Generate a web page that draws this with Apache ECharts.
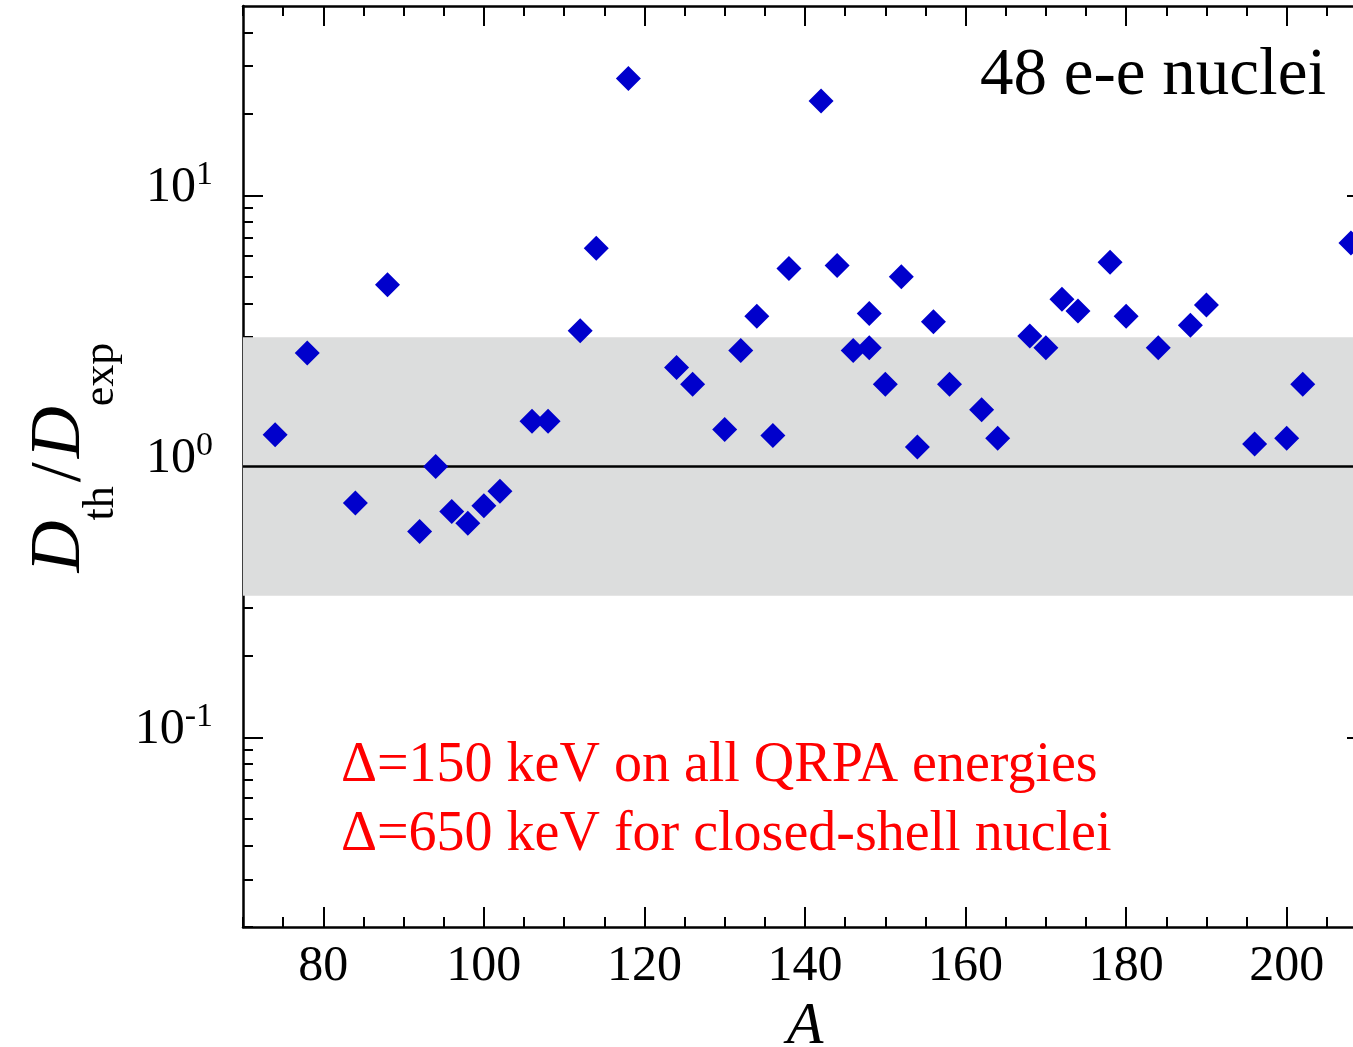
<!DOCTYPE html>
<html>
<head>
<meta charset="utf-8">
<script src="https://cdn.jsdelivr.net/npm/echarts@6/dist/echarts.min.js"></script>
<style>
  html, body { margin: 0; padding: 0; background: #ffffff; }
  #chart { width: 1353px; height: 1047px; }
</style>
</head>
<body>
<div id="chart"></div>
<script>
// Mass number A of each even-even nucleus
const massNumbers = [74, 78, 84, 88, 92, 94, 96, 98, 100, 102, 106, 108, 112, 114, 118,
  124, 126, 130, 132, 134, 136, 138, 142, 144, 146, 148, 148, 150, 152, 154, 156, 158,
  162, 164, 168, 170, 172, 174, 178, 180, 184, 188, 190, 196, 200, 202, 208];

// Ratio of theoretical to experimental level spacing, D_th / D_exp
const ratios = [1.31, 2.62, 0.734, 4.68, 0.576, 1.0, 0.683, 0.618, 0.717, 0.81, 1.47, 1.47, 3.17, 6.39, 27.0,
  2.32, 2.01, 1.37, 2.68, 3.58, 1.30, 5.38, 22.3, 5.51, 2.68, 3.67, 2.74, 2.01, 5.01, 1.18, 3.42, 2.01,
  1.62, 1.27, 3.03, 2.74, 4.14, 3.75, 5.67, 3.58, 2.74, 3.32, 3.94, 1.21, 1.27, 2.01, 6.68];

// Axis ranges and tick positions
const xRange = [70, 210];
const xMajorTicks = [80, 100, 120, 140, 160, 180, 200];
const xMinorStep = 5;
const yRange = [0.02, 50];
const yMajorTicks = [0.1, 1, 10];
const yMinorTicks = [0.02, 0.03, 0.04, 0.05, 0.06, 0.07, 0.08, 0.09,
  0.2, 0.3, 0.4, 0.5, 0.6, 0.7, 0.8, 0.9,
  2, 3, 4, 5, 6, 7, 8, 9,
  20, 30, 40];

// Shaded "factor of 3" band and the unity reference line
const factorBand = [1 / 3, 3];
const unityLine = 1;

// Annotations
const sampleLabel = '48 e-e nuclei';
const shiftNotes = ['\u0394=150 keV on all QRPA energies', '\u0394=650 keV for closed-shell nuclei'];

const SERIF = '"Liberation Serif", "Times New Roman", serif';
const AXIS_COLOR = '#000000';

const points = massNumbers.map((a, i) => [a, ratios[i]]);

function xAxisDef(position, major) {
  const def = {
    type: 'value',
    position: position,
    min: xRange[0],
    max: xRange[1],
    axisLine: { show: major, onZero: false, lineStyle: { color: AXIS_COLOR, width: 2.5 } },
    axisTick: {
      show: true, inside: true, length: major ? 20 : 10,
      lineStyle: { color: AXIS_COLOR, width: 2 }
    },
    axisLabel: { show: false },
    splitLine: { show: false }
  };
  if (major) {
    def.axisTick.customValues = xMajorTicks;
  } else {
    def.interval = xMinorStep;
  }
  if (major && position === 'bottom') {
    def.axisLabel = {
      show: true, customValues: xMajorTicks, margin: 15,
      fontFamily: SERIF, fontSize: 50, lineHeight: 50, color: '#000'
    };
    def.name = 'A';
    def.nameLocation = 'middle';
    def.nameGap = 66;
    def.nameTextStyle = {
      fontFamily: SERIF, fontStyle: 'italic', fontSize: 60, lineHeight: 60, color: '#000'
    };
  }
  return def;
}

function yAxisDef(position, major) {
  const def = {
    type: 'log',
    logBase: 10,
    position: position,
    min: yRange[0],
    max: yRange[1],
    axisLine: { show: major, onZero: false, lineStyle: { color: AXIS_COLOR, width: 2.5 } },
    axisTick: {
      show: true, inside: true, length: major ? 20 : 10,
      customValues: major ? yMajorTicks : yMinorTicks,
      lineStyle: { color: AXIS_COLOR, width: 2 }
    },
    axisLabel: { show: false },
    splitLine: { show: false },
    minorTick: { show: false }
  };
  if (major && position === 'left') {
    def.axisLabel = {
      show: true,
      customValues: yMajorTicks,
      margin: 30,
      padding: [0, 0, 24, 0],
      formatter: function (v) {
        const e = Math.round(Math.log10(v));
        return '{b|10}{s|' + e + '}';
      },
      rich: {
        b: { fontFamily: SERIF, fontSize: 50, lineHeight: 50, padding: [8, 0, 0, 0], color: '#000' },
        s: { fontFamily: SERIF, fontSize: 34, lineHeight: 34, verticalAlign: 'top', color: '#000' }
      }
    };
    def.name = '{d|D}{sub|th}{sl|/}{d|D}{sub|exp}';
    def.nameLocation = 'middle';
    def.nameRotate = 90;
    def.nameGap = 129;
    def.nameTextStyle = {
      padding: [0, 0, 0, 18],
      rich: {
        d: { fontFamily: SERIF, fontStyle: 'italic', fontSize: 72, lineHeight: 72, verticalAlign: 'top', color: '#000' },
        sub: { fontFamily: SERIF, fontSize: 44, lineHeight: 44, padding: [56, 0, 0, 0], verticalAlign: 'top', color: '#000' },
        sl: { fontFamily: SERIF, fontSize: 72, lineHeight: 72, verticalAlign: 'bottom', color: '#000', padding: [0, 4, 0, 4] }
      }
    };
  }
  return def;
}

const chart = echarts.init(document.getElementById('chart'), null, { renderer: 'canvas' });

chart.setOption({
  backgroundColor: '#ffffff',
  animation: false,
  grid: { left: 243, right: -14, top: 6, bottom: 120, containLabel: false, outerBoundsMode: 'none' },
  xAxis: [
    xAxisDef('bottom', true),
    xAxisDef('bottom', false),
    xAxisDef('top', true),
    xAxisDef('top', false)
  ],
  yAxis: [
    yAxisDef('left', true),
    yAxisDef('left', false),
    yAxisDef('right', true),
    yAxisDef('right', false)
  ],
  series: [{
    type: 'scatter',
    xAxisIndex: 0,
    yAxisIndex: 0,
    data: points,
    symbol: 'diamond',
    symbolSize: 25,
    itemStyle: { color: '#0000cc', opacity: 1 },
    z: 5,
    markArea: {
      silent: true,
      itemStyle: { color: '#dcdddd', opacity: 1 },
      label: { show: false },
      data: [[{ yAxis: factorBand[0] }, { yAxis: factorBand[1] }]]
    },
    markLine: {
      silent: true,
      symbol: 'none',
      label: { show: false },
      lineStyle: { color: '#000', width: 2.5, type: 'solid', opacity: 1 },
      data: [{ yAxis: unityLine }]
    }
  }],
  graphic: [
    {
      type: 'text', x: 1326, y: 76, z: 10,
      style: {
        text: sampleLabel, font: '67px ' + SERIF, fill: '#000',
        align: 'right', verticalAlign: 'middle'
      }
    },
    {
      type: 'text', x: 341, y: 766, z: 10,
      style: {
        text: shiftNotes[0], font: '56px ' + SERIF, fill: '#ff0000',
        align: 'left', verticalAlign: 'middle'
      }
    },
    {
      type: 'text', x: 341, y: 835, z: 10,
      style: {
        text: shiftNotes[1], font: '56px ' + SERIF, fill: '#ff0000',
        align: 'left', verticalAlign: 'middle'
      }
    }
  ]
});
</script>
</body>
</html>
